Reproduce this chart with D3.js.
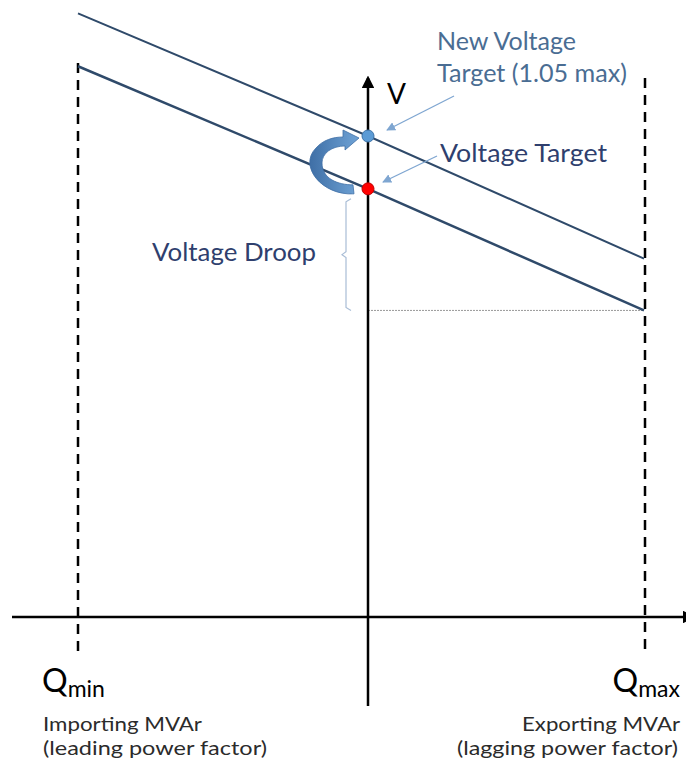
<!DOCTYPE html>
<html>
<head>
  <meta charset="utf-8">
  <script src="https://cdn.jsdelivr.net/npm/d3@7/dist/d3.min.js"></script>
  <style>
    body { margin: 0; background: #fff; }
    text { font-family: Lato, "Open Sans", sans-serif; }
  </style>
</head>
<body>
<script>
  // reactive power positions: Qmin, 0, Qmax
  var qPoints = [-1, 0, 1];
  // droop line through the original voltage target (1.0 pu)
  var droopLine = [1.116, 1.0, 0.885];
  // line shifted up to the new voltage target (1.05 pu)
  var newLine = [1.166, 1.05, 0.934];
  var targets = [
    {name: "Voltage Target", v: 1.0, color: "#ff0000", stroke: "#c00000"},
    {name: "New Voltage Target", v: 1.05, color: "#5b9bd5", stroke: "#3d73a8"}
  ];
  var droopBottom = 0.885;
  var axisV = 0.595;

  var W = 686, H = 767;
  var svg = d3.select("body").append("svg").attr("width", W).attr("height", H);

  var x = d3.scaleLinear().domain([-1, 0, 1]).range([78, 368, 644]);
  var y = d3.scaleLinear().domain([axisV, 1.05]).range([617, 136]);

  var defs = svg.append("defs");
  defs.append("marker").attr("id", "blackhead")
      .attr("viewBox", "0 0 10 10").attr("refX", 8).attr("refY", 5)
      .attr("markerWidth", 5).attr("markerHeight", 5).attr("orient", "auto")
    .append("path").attr("d", "M0,0 L10,5 L0,10 Z").attr("fill", "#000");
  defs.append("marker").attr("id", "bluehead")
      .attr("viewBox", "0 0 10 10").attr("refX", 9).attr("refY", 5)
      .attr("markerWidth", 9).attr("markerHeight", 9).attr("orient", "auto")
      .attr("markerUnits", "userSpaceOnUse")
    .append("path").attr("d", "M0,0 L10,5 L0,10 Z").attr("fill", "#7fa6d1");
  var grad = defs.append("linearGradient").attr("id", "curveGrad")
      .attr("x1", 0).attr("y1", 0).attr("x2", 1).attr("y2", 0);
  grad.append("stop").attr("offset", "0%").attr("stop-color", "#3f6fa6");
  grad.append("stop").attr("offset", "100%").attr("stop-color", "#6fa3d6");

  // dashed Qmin / Qmax limits
  svg.append("line")
      .attr("x1", x(-1)).attr("x2", x(-1)).attr("y1", 63).attr("y2", 652)
      .attr("stroke", "#000").attr("stroke-width", 2.5).attr("stroke-dasharray", "10,7");
  svg.append("line")
      .attr("x1", x(1) + 1).attr("x2", x(1) + 1).attr("y1", 78).attr("y2", 652)
      .attr("stroke", "#000").attr("stroke-width", 2.5).attr("stroke-dasharray", "10,7");

  // dotted line at droop bottom
  svg.append("line")
      .attr("x1", x(0)).attr("x2", x(1)).attr("y1", y(droopBottom)).attr("y2", y(droopBottom))
      .attr("stroke", "#999").attr("stroke-width", 1).attr("stroke-dasharray", "2,1");

  // axes
  svg.append("line")
      .attr("x1", 12).attr("x2", 693).attr("y1", y(axisV)).attr("y2", y(axisV))
      .attr("stroke", "#000").attr("stroke-width", 2.5).attr("marker-end", "url(#blackhead)");
  svg.append("line")
      .attr("x1", x(0)).attr("x2", x(0)).attr("y1", 706).attr("y2", 78)
      .attr("stroke", "#000").attr("stroke-width", 2.5).attr("marker-end", "url(#blackhead)");

  // droop lines
  var line = d3.line().x(function(d) { return x(d[0]); }).y(function(d) { return y(d[1]); });
  svg.append("path").datum(d3.zip(qPoints, newLine)).attr("d", line)
      .attr("fill", "none").attr("stroke", "#2f4a6a").attr("stroke-width", 2);
  svg.append("path").datum(d3.zip(qPoints, droopLine)).attr("d", line)
      .attr("fill", "none").attr("stroke", "#2f4a6a").attr("stroke-width", 2.5);

  // bracket for voltage droop
  var bx = x(0) - 22, yt = y(1.0) + 10, yb = y(droopBottom), ym = (yt + yb) / 2;
  svg.append("path")
      .attr("d", "M" + (bx + 5) + "," + yt + " L" + bx + "," + (yt + 3) +
                 " L" + bx + "," + (ym - 3) + " L" + (bx - 4) + "," + ym +
                 " L" + bx + "," + (ym + 3) + " L" + bx + "," + (yb - 3) +
                 " L" + (bx + 5) + "," + yb)
      .attr("fill", "none").attr("stroke", "#a9bdd6").attr("stroke-width", 1.2);

  // curved arrow from old target to new target
  var cx0 = x(0), yr = y(1.0), yn = y(1.05);
  svg.append("path")
      .attr("d", "M" + (cx0 - 14) + "," + (yr + 5) +
                 " C" + (cx0 - 46) + "," + (yr + 7) + " " + (cx0 - 70) + "," + (yn + 30) + " " + (cx0 - 52) + "," + (yn + 12) +
                 " C" + (cx0 - 45) + "," + (yn + 4) + " " + (cx0 - 35) + "," + (yn + 1) + " " + (cx0 - 25) + "," + (yn + 1) +
                 " L" + (cx0 - 25) + "," + (yn - 6) +
                 " L" + (cx0 - 9) + "," + (yn + 2) +
                 " L" + (cx0 - 23) + "," + (yn + 14) +
                 " L" + (cx0 - 23) + "," + (yn + 10) +
                 " C" + (cx0 - 36) + "," + (yn + 10) + " " + (cx0 - 46) + "," + (yn + 17) + " " + (cx0 - 46) + "," + (yn + 27) +
                 " C" + (cx0 - 46) + "," + (yr - 10) + " " + (cx0 - 30) + "," + (yr - 4) + " " + (cx0 - 15) + "," + (yr - 4) + " Z")
      .attr("fill", "url(#curveGrad)").attr("stroke", "#3f6fa6").attr("stroke-width", 0.8);

  // target dots
  svg.selectAll("circle.target").data(targets).enter().append("circle")
      .attr("class", "target")
      .attr("cx", x(0)).attr("cy", function(d) { return y(d.v); }).attr("r", 6)
      .attr("fill", function(d) { return d.color; })
      .attr("stroke", function(d) { return d.stroke; }).attr("stroke-width", 1);

  // pointer arrows
  svg.append("line").attr("x1", 454).attr("y1", 96).attr("x2", 387).attr("y2", 130)
      .attr("stroke", "#7fa6d1").attr("stroke-width", 1.3).attr("marker-end", "url(#bluehead)");
  svg.append("line").attr("x1", 437).attr("y1", 156).attr("x2", 383).attr("y2", 182)
      .attr("stroke", "#7fa6d1").attr("stroke-width", 1.3).attr("marker-end", "url(#bluehead)");

  // labels
  function label(tx, ty, size, color, str, len, anchor) {
    var t = svg.append("text").attr("x", tx).attr("y", ty).attr("font-size", size)
        .attr("fill", color).text(str);
    if (len) t.attr("textLength", len).attr("lengthAdjust", "spacingAndGlyphs");
    if (anchor) t.attr("text-anchor", anchor);
    return t;
  }
  label(387, 104, 28, "#000", "V");
  label(437, 50, 25, "#4a6d93", "New Voltage", 139);
  label(437, 82, 25, "#4a6d93", "Target (1.05 max)", 190);
  label(440, 162, 25, "#2f3f6e", "Voltage Target", 167);
  label(152, 261, 25, "#2f3f6e", "Voltage Droop", 164);

  var qmin = svg.append("text").attr("x", 42).attr("y", 692).attr("font-size", 32).attr("fill", "#000");
  qmin.append("tspan").text("Q");
  qmin.append("tspan").attr("font-size", 23).attr("dy", 5).text("min");
  var qmax = svg.append("text").attr("x", 680).attr("y", 692).attr("font-size", 32).attr("fill", "#000")
      .attr("text-anchor", "end");
  qmax.append("tspan").text("Q");
  qmax.append("tspan").attr("font-size", 23).attr("dy", 5).text("max");

  label(43, 731, 20, "#2b2b2b", "Importing MVAr", 159);
  label(43, 755, 20, "#2b2b2b", "(leading power factor)", 224);
  label(522, 731, 20, "#2b2b2b", "Exporting MVAr", 158);
  label(457, 755, 20, "#2b2b2b", "(lagging power factor)", 221);
</script>
</body>
</html>
